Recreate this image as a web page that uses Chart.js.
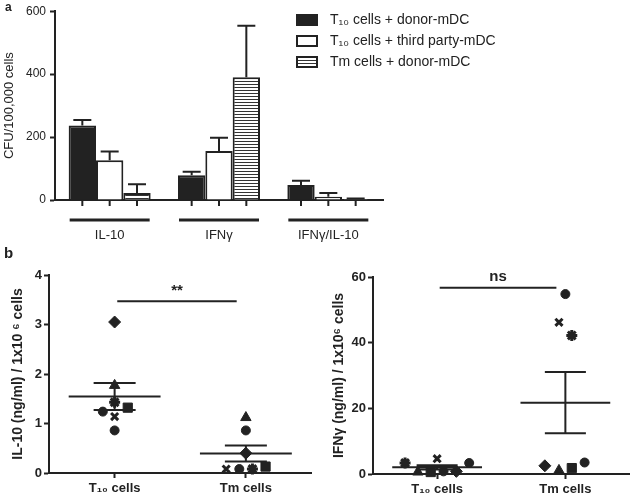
<!DOCTYPE html>
<html>
<head>
<meta charset="utf-8">
<script src="https://cdn.jsdelivr.net/npm/chart.js@4.4.1/dist/chart.umd.min.js"></script>
<style>
  body { margin: 0; background: #fff; width: 638px; height: 503px; position: relative; overflow: hidden; }
  canvas { position: absolute; }
</style>
</head>
<body>
<canvas id="chartB1" width="320" height="258" style="left:0;top:245px"></canvas>
<canvas id="chartB2" width="318" height="258" style="left:320px;top:245px"></canvas>
<canvas id="chartA" width="638" height="262" style="left:0;top:0"></canvas>
<script>
// ---- panel a data ----
var cytokines = ['IL-10', 'IFN\u03b3', 'IFN\u03b3/IL-10'];
var groupNames = ['T\u2081\u2080 cells + donor-mDC', 'T\u2081\u2080 cells + third party-mDC', 'Tm cells + donor-mDC'];
var donorT10 = [237, 79, 48];
var thirdT10 = [126, 156, 10];
var donorTm = [22, 390, 3];
var donorT10Sem = [17, 11, 13];
var thirdT10Sem = [28, 42, 12];
var donorTmSem = [28, 164, 2];
var cfuTicks = [0, 200, 400, 600];

// ---- panel b data ----
var cellGroups = ['T\u2081\u2080 cells', 'Tm cells'];
var il10T10 = [3.05, 1.77, 1.43, 1.32, 1.24, 1.14, 0.86];
var il10T10Shift = [0, 0, 0, 0.10, -0.09, 0, 0];
var il10T10Marks = ['rectRot', 'triangle', 'star', 'rect', 'circle', 'crossRot', 'circle'];
var il10Tm = [1.12, 0.86, 0.40, 0.13, 0.08, 0.08, 0.08];
var il10TmShift = [0, 0, 0, 0.15, -0.15, -0.05, 0.05];
var il10TmMarks = ['triangle', 'circle', 'rectRot', 'rect', 'crossRot', 'circle', 'star'];
var ifngT10 = [3.35, 4.66, 3.35, 0.6, 0.6, 0.8, 0.8];
var ifngT10Shift = [-0.25, 0, 0.25, -0.15, -0.05, 0.05, 0.15];
var ifngT10Marks = ['star', 'crossRot', 'circle', 'triangle', 'rect', 'circle', 'rectRot'];
var ifngTm = [54.8, 46.2, 42.2, 2.5, 1.1, 1.8, 3.5];
var ifngTmShift = [0, -0.05, 0.05, -0.16, -0.05, 0.05, 0.15];
var ifngTmMarks = ['circle', 'crossRot', 'star', 'rectRot', 'triangle', 'rect', 'circle'];
var il10Ticks = [0, 1, 2, 3, 4];
var ifngTicks = [0, 20, 40, 60];
var sigLevels = [3.47, 56.7];
var sigLabels = ['**', 'ns'];

var ink = '#222';
Chart.defaults.font.family = "'Liberation Sans', Arial, sans-serif";
Chart.defaults.color = ink;

function stripes(ctx) {
  var c = document.createElement('canvas');
  c.width = 4; c.height = 3;
  var g = c.getContext('2d');
  g.fillStyle = '#fff'; g.fillRect(0, 0, 4, 3);
  g.fillStyle = '#333'; g.fillRect(0, 0, 4, 1);
  return ctx.createPattern(c, 'repeat');
}

var ctxA = document.getElementById('chartA').getContext('2d');
var striped = stripes(ctxA);
var fills = ['#222', '#fff', striped];

// error bars, bar tick marks, group underlines, legend, panel letter
var barExtras = {
  id: 'barExtras',
  afterDatasetsDraw: function(chart) {
    var ctx = chart.ctx, y = chart.scales.y, x = chart.scales.x;
    ctx.save();
    ctx.strokeStyle = ink;
    ctx.lineWidth = 2;
    chart.data.datasets.forEach(function(ds, i) {
      chart.getDatasetMeta(i).data.forEach(function(bar, j) {
        var top = y.getPixelForValue(ds.data[j] + ds.sem[j]);
        ctx.beginPath();
        ctx.moveTo(bar.x, bar.y); ctx.lineTo(bar.x, top);
        ctx.moveTo(bar.x - 9, top); ctx.lineTo(bar.x + 9, top);
        ctx.moveTo(bar.x, y.bottom); ctx.lineTo(bar.x, y.bottom + 6);
        ctx.stroke();
      });
    });
    ctx.lineWidth = 3;
    cytokines.forEach(function(c, j) {
      var cx = x.getPixelForTick(j);
      ctx.beginPath();
      ctx.moveTo(cx - 40, y.bottom + 20); ctx.lineTo(cx + 40, y.bottom + 20);
      ctx.stroke();
    });
    ctx.restore();
  },
  afterDraw: function(chart) {
    var ctx = chart.ctx;
    ctx.save();
    ctx.font = '14px "Liberation Sans", Arial, sans-serif';
    ctx.textBaseline = 'middle';
    ctx.lineWidth = 2;
    ctx.strokeStyle = ink;
    chart.data.datasets.forEach(function(ds, i) {
      var cy = 20 + i * 21;
      ctx.fillStyle = ds.backgroundColor;
      ctx.fillRect(297, cy - 5, 20, 10);
      ctx.strokeRect(297, cy - 5, 20, 10);
      ctx.fillStyle = ink;
      ctx.fillText(ds.label, 330, cy);
    });
    ctx.font = 'bold 12px "Liberation Sans", Arial, sans-serif';
    ctx.fillText('a', 5, 8);
    ctx.restore();
  }
};

new Chart(ctxA, {
  type: 'bar',
  data: {
    labels: cytokines,
    datasets: [donorT10, thirdT10, donorTm].map(function(vals, i) {
      return {
        label: groupNames[i],
        data: vals,
        sem: [donorT10Sem, thirdT10Sem, donorTmSem][i],
        backgroundColor: fills[i],
        borderColor: ink,
        borderWidth: 2,
        categoryPercentage: 0.75,
        barPercentage: 1
      };
    })
  },
  options: {
    responsive: false,
    animation: false,
    layout: { padding: { top: 5, right: 255, left: 0, bottom: 0 } },
    plugins: { legend: { display: false }, tooltip: { enabled: false } },
    scales: {
      x: {
        grid: { display: false },
        border: { color: ink, width: 2 },
        ticks: { padding: 20, font: { size: 13 }, color: ink },
        afterFit: function(s) { s.height = 62; }
      },
      y: {
        min: 0, max: 600,
        afterBuildTicks: function(s) { s.ticks = cfuTicks.map(function(v) { return { value: v }; }); },
        grid: { display: true, drawOnChartArea: false, tickLength: 5, tickWidth: 2, tickColor: ink },
        border: { color: ink, width: 2 },
        ticks: { padding: 4, font: { size: 12 }, color: ink },
        title: { display: true, text: 'CFU/100,000 cells', font: { size: 13 }, color: ink, padding: { top: 2, bottom: 0 } },
        afterFit: function(s) { s.width = 55; }
      }
    }
  },
  plugins: [barExtras]
});

// ---- panel b ----
function markSize(m) {
  return { circle: 4.5, rect: 6.5, rectRot: 6, triangle: 6, crossRot: 5, star: 5.5 }[m];
}
function markLine(m) {
  return (m === 'crossRot' || m === 'star') ? 3 : 1;
}
function scatterSet(vals, shift, marks, pos) {
  return {
    data: vals.map(function(v, k) { return { x: pos + shift[k], y: v }; }),
    pointStyle: marks,
    pointRadius: marks.map(markSize),
    pointBorderWidth: marks.map(markLine),
    backgroundColor: ink,
    borderColor: ink,
    clip: false
  };
}

var meanSem = {
  id: 'meanSem',
  afterDatasetsDraw: function(chart, args, opts) {
    var ctx = chart.ctx, x = chart.scales.x, y = chart.scales.y;
    ctx.save();
    ctx.strokeStyle = ink;
    ctx.lineWidth = 2;
    chart.data.datasets.forEach(function(ds, i) {
      var vals = ds.data.map(function(p) { return p.y; });
      var n = vals.length;
      var m = vals.reduce(function(a, b) { return a + b; }, 0) / n;
      var ss = vals.reduce(function(a, b) { return a + (b - m) * (b - m); }, 0);
      var sem = Math.sqrt(ss / (n - 1)) / Math.sqrt(n);
      var ym = y.getPixelForValue(m), yt = y.getPixelForValue(m + sem), yb = y.getPixelForValue(m - sem);
      ctx.beginPath();
      ctx.moveTo(x.getPixelForValue(i - 0.35), ym); ctx.lineTo(x.getPixelForValue(i + 0.35), ym);
      ctx.moveTo(x.getPixelForValue(i - 0.16), yt); ctx.lineTo(x.getPixelForValue(i + 0.16), yt);
      ctx.moveTo(x.getPixelForValue(i - 0.16), yb); ctx.lineTo(x.getPixelForValue(i + 0.16), yb);
      ctx.moveTo(x.getPixelForValue(i), yt); ctx.lineTo(x.getPixelForValue(i), yb);
      ctx.stroke();
    });
    var ys = y.getPixelForValue(opts.level);
    ctx.beginPath();
    ctx.moveTo(x.getPixelForValue(0.02), ys); ctx.lineTo(x.getPixelForValue(0.93), ys);
    ctx.stroke();
    ctx.fillStyle = ink;
    ctx.font = 'bold 15px "Liberation Sans", Arial, sans-serif';
    ctx.textAlign = 'center';
    ctx.textBaseline = 'bottom';
    ctx.fillText(opts.text, x.getPixelForValue(0.475), ys - 3);
    if (opts.letter) {
      ctx.textAlign = 'left';
      ctx.textBaseline = 'top';
      ctx.fillText(opts.letter, 4, 1);
    }
    ctx.restore();
  }
};

function scatterOptions(ticks, max, title, pad, yWidth, xHeight, titlePad, sig) {
  return {
    responsive: false,
    animation: false,
    layout: { padding: pad },
    plugins: { legend: { display: false }, tooltip: { enabled: false }, meanSem: sig },
    scales: {
      x: {
        type: 'linear', min: -0.5, max: 1.5,
        afterBuildTicks: function(s) { s.ticks = cellGroups.map(function(c, k) { return { value: k }; }); },
        ticks: { callback: function(v) { return cellGroups[v]; }, font: { size: 13, weight: 'bold' }, color: ink, padding: 3 },
        grid: { display: true, drawOnChartArea: false, tickLength: 5, tickWidth: 2, tickColor: ink },
        border: { color: ink, width: 2 },
        afterFit: function(s) { s.height = xHeight; }
      },
      y: {
        min: 0, max: max,
        afterBuildTicks: function(s) { s.ticks = ticks.map(function(v) { return { value: v }; }); },
        ticks: { font: { size: 13, weight: 'bold' }, color: ink, padding: 2 },
        grid: { display: true, drawOnChartArea: false, tickLength: 5, tickWidth: 2, tickColor: ink },
        border: { color: ink, width: 2 },
        title: { display: true, text: title, font: { size: 14, weight: 'bold' }, color: ink, padding: { top: titlePad, bottom: 0 } },
        afterFit: function(s) { s.width = yWidth; }
      }
    }
  };
}

new Chart(document.getElementById('chartB1'), {
  type: 'scatter',
  data: { datasets: [
    scatterSet(il10T10, il10T10Shift, il10T10Marks, 0),
    scatterSet(il10Tm, il10TmShift, il10TmMarks, 1)
  ] },
  options: scatterOptions(il10Ticks, 4, 'IL-10 (ng/ml) / 1x10 \u2076 cells',
    { top: 30, right: 7, left: 0, bottom: 0 }, 49, 30, 10,
    { level: sigLevels[0], text: sigLabels[0], letter: 'b' }),
  plugins: [meanSem]
});

new Chart(document.getElementById('chartB2'), {
  type: 'scatter',
  data: { datasets: [
    scatterSet(ifngT10, ifngT10Shift, ifngT10Marks, 0),
    scatterSet(ifngTm, ifngTmShift, ifngTmMarks, 1)
  ] },
  options: scatterOptions(ifngTicks, 60, 'IFN\u03b3 (ng/ml) / 1x10\u2076 cells',
    { top: 32, right: 3, left: 0, bottom: 0 }, 53, 29, 11,
    { level: sigLevels[1], text: sigLabels[1] }),
  plugins: [meanSem]
});
</script>
</body>
</html>
